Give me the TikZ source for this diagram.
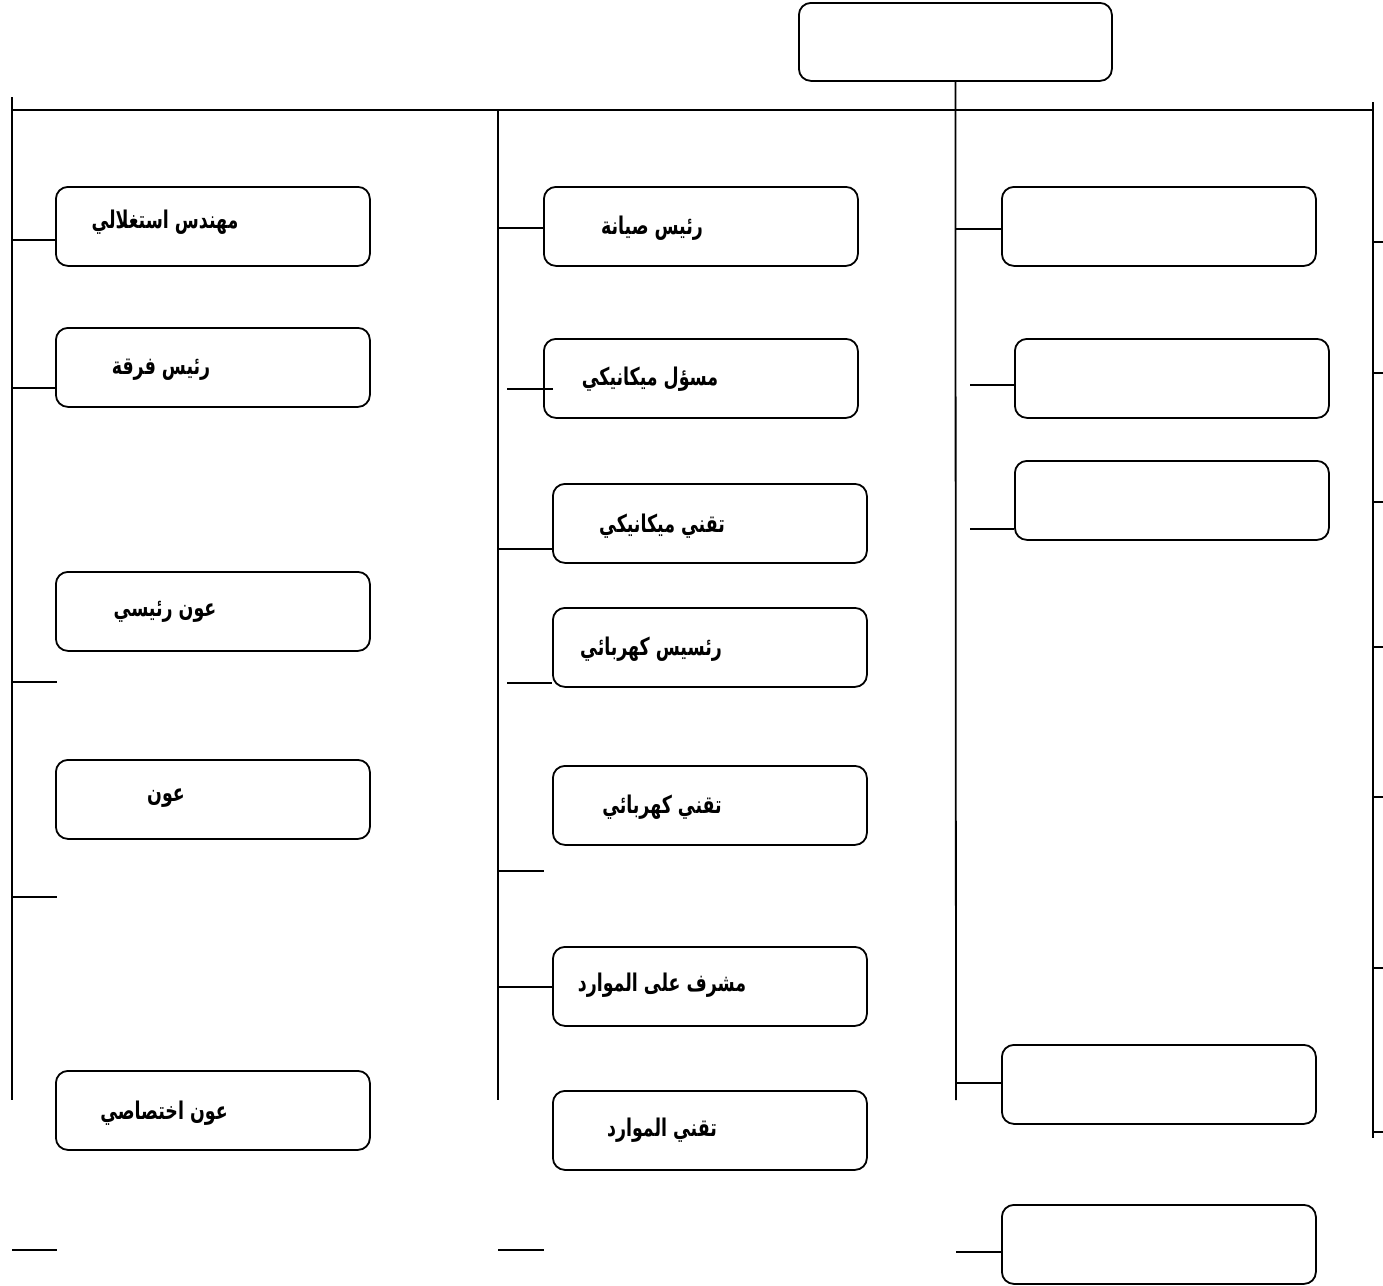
\documentclass[tikz,border=0pt]{standalone}
\usepackage{fontspec}
\usepackage{graphicx}
\newfontfamily\arabicfont[Script=Arabic]{DejaVu Sans}
\TeXXeTstate=1
\newcommand{\artxt}[1]{\scalebox{0.87}[1.22]{\beginR #1\endR}}
\begin{document}
\begin{tikzpicture}[x=1pt,y=-1pt,
  box/.style={draw, line width=1.8pt, rounded corners=12pt, minimum width=314pt, minimum height=79pt, anchor=north west, inner sep=0pt},
  lbl/.style={font=\arabicfont\bfseries\fontsize{20}{24}\selectfont, inner sep=0pt},
  ln/.style={line width=1.8pt}]
\useasboundingbox (0,0) rectangle (1383,1285);
% top box
\node[box, minimum width=313pt, minimum height=78pt] (top) at (798,2) {};
% left column boxes
\node[box] (l1) at (55,186) {};
\node[box] (l2) at (55,327) {};
\node[box] (l3) at (55,571) {};
\node[box] (l4) at (55,759) {};
\node[box] (l5) at (55,1070) {};
% middle column boxes
\node[box] (m1) at (543,186) {};
\node[box] (m2) at (543,338) {};
\node[box] (m3) at (552,483) {};
\node[box] (m4) at (552,607) {};
\node[box] (m5) at (552,765) {};
\node[box] (m6) at (552,946) {};
\node[box] (m7) at (552,1090) {};
% right column boxes
\node[box] (r1) at (1001,186) {};
\node[box] (r2) at (1014,338) {};
\node[box] (r3) at (1014,460) {};
\node[box] (r4) at (1001,1044) {};
\node[box] (r5) at (1001,1204) {};
% labels
\node[lbl] (t1) at (165,222) {\artxt{مهندس استغلالي}};
\node[lbl] (t2) at (161,370) {\artxt{رئيس فرقة}};
\node[lbl] (t3) at (165,612) {\artxt{عون رئيسي}};
\node[lbl] (t4) at (166,798) {\artxt{عون}};
\node[lbl] (t5) at (164,1113) {\artxt{عون اختصاصي}};
\node[lbl] (t6) at (652,228) {\artxt{رئيس صيانة}};
\node[lbl] (t7) at (650,379) {\artxt{مسؤل ميكانيكي}};
\node[lbl] (t8) at (662,526) {\artxt{تقني ميكانيكي}};
\node[lbl] (t9) at (651,649) {\artxt{رئسيس كهربائي}};
\node[lbl] (t10) at (662,807) {\artxt{تقني كهربائي}};
\node[lbl] (t11) at (662,985) {\artxt{مشرف على الموارد}};
\node[lbl] (t12) at (662,1130) {\artxt{تقني الموارد}};
% trunk coordinates
\coordinate (hl) at (12,110);
\coordinate (hr) at (1373,110);
\coordinate (lt) at (12,97);
\coordinate (lb) at (12,1100);
\coordinate (mt) at (498,110);
\coordinate (mb) at (498,1100);
\coordinate (rt) at (956,84);
\coordinate (rb) at (956,1100);
\coordinate (et) at (1373,102);
\coordinate (eb) at (1373,1138);
\draw[ln] (hl) -- (hr);
\draw[ln] (lt) -- (lb);
\draw[ln] (mt) -- (mb);
\draw[ln] (top.south) -- (rb);
\draw[ln] (et) -- (eb);
% left connectors
\draw[ln] (lt |- 0,240) -- (l1.west |- 0,240);
\draw[ln] (lt |- 0,388) -- (l2.west |- 0,388);
\coordinate (lf3) at (57,682);
\coordinate (lf4) at (57,897);
\coordinate (lf5a) at (12,1250);
\coordinate (lf5b) at (57,1250);
\draw[ln] (lt |- lf3) -- (lf3);
\draw[ln] (lt |- lf4) -- (lf4);
\draw[ln] (lf5a) -- (lf5b);
% middle connectors
\draw[ln] (mt |- 0,228) -- (m1.west |- 0,228);
\coordinate (mf2) at (507,389);
\draw[ln] (mf2) -- (553,389);
\draw[ln] (mt |- 0,549) -- (m3.west |- 0,549);
\coordinate (mf4) at (507,683);
\draw[ln] (mf4) -- (m4.west |- mf4);
\coordinate (mf5) at (544,871);
\draw[ln] (mt |- mf5) -- (mf5);
\draw[ln] (mt |- 0,987) -- (m6.west |- 0,987);
\coordinate (mf7a) at (498,1250);
\coordinate (mf7b) at (544,1250);
\draw[ln] (mf7a) -- (mf7b);
% right connectors
\draw[ln] (rt |- 0,229) -- (r1.west |- 0,229);
\coordinate (rf2) at (970,385);
\draw[ln] (rf2) -- (r2.west |- rf2);
\coordinate (rf3) at (970,529);
\draw[ln] (rf3) -- (r3.west |- rf3);
\draw[ln] (rt |- 0,1083) -- (r4.west |- 0,1083);
\coordinate (rf5) at (956,1252);
\draw[ln] (rf5) -- (r5.west |- rf5);
% edge ticks
\foreach \yy in {242,373,502,647,797,968,1132}
  \draw[ln] (et |- 0,\yy) -- ++(12,0);
\end{tikzpicture}
\end{document}
